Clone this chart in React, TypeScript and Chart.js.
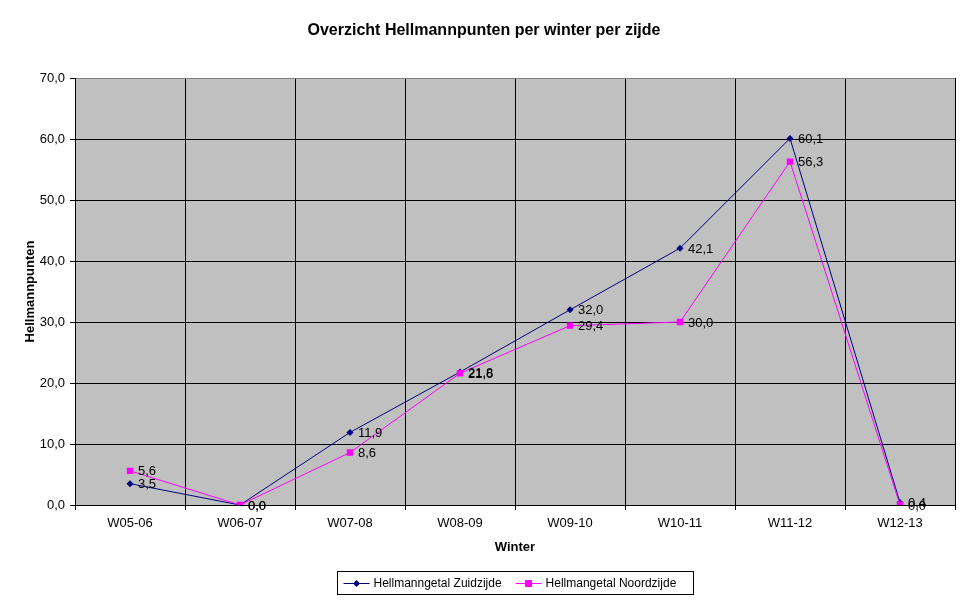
import React, { useEffect, useRef } from "react";
import { Chart, registerables } from "chart.js";

Chart.register(...registerables);

const categories = ["W05-06", "W06-07", "W07-08", "W08-09", "W09-10", "W10-11", "W11-12", "W12-13"];
const zuidValues = [3.5, 0.0, 11.9, 21.8, 32.0, 42.1, 60.1, 0.4];
const noordValues = [5.6, 0.0, 8.6, 21.6, 29.4, 30.0, 56.3, 0.0];
const seriesLabels = ["Hellmanngetal Zuidzijde", "Hellmangetal Noordzijde"];
const yTicks = [0, 10, 20, 30, 40, 50, 60, 70];
const titleText = "Overzicht Hellmannpunten per winter per zijde";
const xTitle = "Winter";
const yTitle = "Hellmannpunten";

const FONT = "'Liberation Sans', Arial, sans-serif";
const NAVY = "#000080";
const MAGENTA = "#FF00FF";

const fmt = (v: number) => v.toFixed(1).replace(".", ",");

const decorPlugin = {
  id: "decor",
  beforeDraw(chart: any) {
    const { ctx, chartArea: a, width, height } = chart;
    ctx.save();
    ctx.fillStyle = "#ffffff";
    ctx.fillRect(0, 0, width, height);
    ctx.fillStyle = "#C0C0C0";
    ctx.fillRect(a.left, a.top, a.right - a.left, a.bottom - a.top);
    ctx.restore();
  },
  afterDraw(chart: any) {
    const { ctx, chartArea: a, width } = chart;
    ctx.save();
    // title
    ctx.fillStyle = "#000";
    ctx.font = `bold 16px ${FONT}`;
    ctx.textAlign = "center";
    ctx.textBaseline = "middle";
    ctx.fillText(titleText, width / 2, 31);
    // axis titles
    ctx.font = `bold 13px ${FONT}`;
    ctx.fillText(xTitle, (a.left + a.right) / 2, 547);
    ctx.save();
    ctx.translate(30, (a.top + a.bottom) / 2);
    ctx.rotate(-Math.PI / 2);
    ctx.fillText(yTitle, 0, 0);
    ctx.restore();

    // data labels
    ctx.font = `13px ${FONT}`;
    ctx.textAlign = "left";
    ctx.textBaseline = "middle";
    ctx.fillStyle = "#000";
    chart.data.datasets.forEach((ds: any, di: number) => {
      const meta = chart.getDatasetMeta(di);
      meta.data.forEach((pt: any, i: number) => {
        ctx.fillText(fmt(ds.data[i]), pt.x + 8, pt.y + 1);
      });
    });

    // legend
    ctx.font = `12px ${FONT}`;
    const lineLen = 26;
    const padL = 6;
    const padR = 17;
    const gapText = 4;
    const gapItem = 14;
    const widths = seriesLabels.map((l) => ctx.measureText(l).width);
    let total = padL + padR;
    widths.forEach((w, i) => {
      total += lineLen + gapText + w + (i < widths.length - 1 ? gapItem : 0);
    });
    const boxH = 23;
    const cx = (a.left + a.right) / 2;
    const bx = Math.round(cx - total / 2) + 0.5;
    const by = 571.5;
    ctx.strokeStyle = "#000";
    ctx.lineWidth = 1;
    ctx.strokeRect(bx, by, Math.round(total), boxH);
    const cy = by + boxH / 2;
    let x = bx + padL;
    chart.data.datasets.forEach((ds: any, i: number) => {
      ctx.strokeStyle = ds.borderColor;
      ctx.beginPath();
      ctx.moveTo(x, Math.round(cy) + 0.5);
      ctx.lineTo(x + lineLen, Math.round(cy) + 0.5);
      ctx.stroke();
      ctx.fillStyle = ds.borderColor;
      const mx = x + lineLen / 2;
      const my = Math.round(cy) + 0.5;
      ctx.beginPath();
      if (ds.pointStyle === "rectRot") {
        ctx.moveTo(mx, my - 3.5);
        ctx.lineTo(mx + 3.5, my);
        ctx.lineTo(mx, my + 3.5);
        ctx.lineTo(mx - 3.5, my);
        ctx.closePath();
      } else {
        ctx.rect(mx - 3.5, my - 3.5, 7, 7);
      }
      ctx.fill();
      ctx.fillStyle = "#000";
      ctx.textAlign = "left";
      ctx.fillText(seriesLabels[i], x + lineLen + gapText, cy + 1);
      x += lineLen + gapText + widths[i] + gapItem;
    });
    ctx.restore();
  },
};

export default function App() {
  const ref = useRef<HTMLCanvasElement | null>(null);
  useEffect(() => {
    document.body.style.margin = "0";
    if (!ref.current) return;
    const chart = new Chart(ref.current, {
      type: "line",
      data: {
        labels: categories,
        datasets: [
          {
            label: seriesLabels[0],
            data: zuidValues,
            borderColor: NAVY,
            backgroundColor: NAVY,
            borderWidth: 1,
            pointStyle: "rectRot",
            pointRadius: 3.5,
            pointBorderWidth: 0,
            pointBackgroundColor: NAVY,
            tension: 0,
            order: 1,
          },
          {
            label: seriesLabels[1],
            data: noordValues,
            borderColor: MAGENTA,
            backgroundColor: MAGENTA,
            borderWidth: 1,
            pointStyle: "rect",
            pointRadius: 4.5,
            pointBorderWidth: 0,
            pointBackgroundColor: MAGENTA,
            tension: 0,
            order: 0,
          },
        ],
      },
      options: {
        responsive: false,
        animation: false,
        devicePixelRatio: 1,
        layout: { padding: { top: 78, right: 13, left: 0, bottom: 0 } },
        plugins: {
          legend: { display: false },
          title: { display: false },
          tooltip: { enabled: false },
        },
        events: [],
        scales: {
          x: {
            type: "category",
            offset: true,
            grid: {
              offset: true,
              color: (ctx: any) => (ctx.index === categories.length ? "#808080" : "#000"),
              tickColor: "#000",
              tickLength: 5,
              lineWidth: 1,
            },
            border: { color: "#000", width: 1 },
            ticks: {
              color: "#000",
              font: { family: FONT, size: 13 },
              padding: 6,
              maxRotation: 0,
              autoSkip: false,
            },
            afterFit: (s: any) => {
              s.height = 96;
            },
          },
          y: {
            min: 0,
            max: 70,
            afterBuildTicks: (s: any) => {
              s.ticks = yTicks.map((v) => ({ value: v }));
            },
            grid: {
              color: (ctx: any) => (ctx.tick && ctx.tick.value === 70 ? "#808080" : "#000"),
              tickColor: "#000",
              tickLength: 5,
              lineWidth: 1,
            },
            border: { color: "#000", width: 1 },
            ticks: {
              color: "#000",
              font: { family: FONT, size: 13 },
              padding: 5,
              callback: (v: any) => fmt(Number(v)),
            },
            afterFit: (s: any) => {
              s.width = 75;
            },
          },
        },
      } as any,
      plugins: [decorPlugin],
    });
    return () => chart.destroy();
  }, []);
  return <canvas ref={ref} width={968} height={601} style={{ display: "block" }} />;
}
